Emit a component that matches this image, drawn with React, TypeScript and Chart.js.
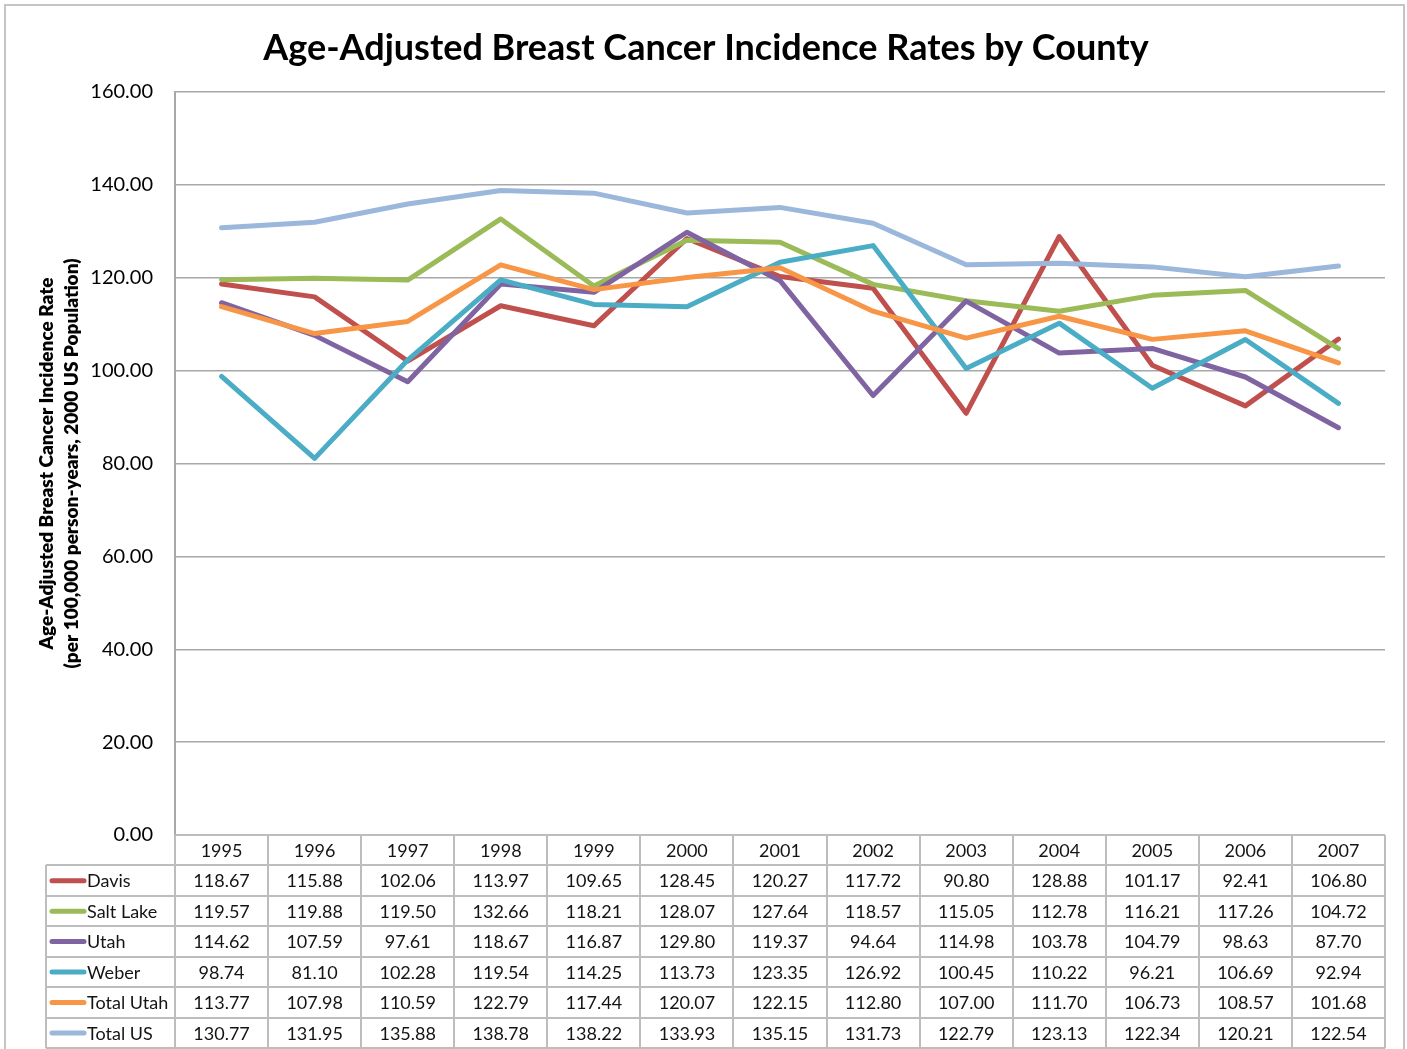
import React, { useEffect, useRef } from "react";
import { Chart, registerables } from "chart.js";

Chart.register(...registerables);

const chartTitle = "Age-Adjusted Breast Cancer Incidence Rates by County";
const yTitleLines = [
  "Age-Adjusted Breast Cancer Incidence Rate",
  "(per 100,000 person-years, 2000 US Population)",
];

const years = ["1995", "1996", "1997", "1998", "1999", "2000", "2001", "2002", "2003", "2004", "2005", "2006", "2007"];

const davis = [118.67, 115.88, 102.06, 113.97, 109.65, 128.45, 120.27, 117.72, 90.8, 128.88, 101.17, 92.41, 106.8];
const saltLake = [119.57, 119.88, 119.5, 132.66, 118.21, 128.07, 127.64, 118.57, 115.05, 112.78, 116.21, 117.26, 104.72];
const utah = [114.62, 107.59, 97.61, 118.67, 116.87, 129.8, 119.37, 94.64, 114.98, 103.78, 104.79, 98.63, 87.7];
const weber = [98.74, 81.1, 102.28, 119.54, 114.25, 113.73, 123.35, 126.92, 100.45, 110.22, 96.21, 106.69, 92.94];
const totalUtah = [113.77, 107.98, 110.59, 122.79, 117.44, 120.07, 122.15, 112.8, 107.0, 111.7, 106.73, 108.57, 101.68];
const totalUS = [130.77, 131.95, 135.88, 138.78, 138.22, 133.93, 135.15, 131.73, 122.79, 123.13, 122.34, 120.21, 122.54];

const seriesNames = ["Davis", "Salt Lake", "Utah", "Weber", "Total Utah", "Total US"];
const seriesValues = [davis, saltLake, utah, weber, totalUtah, totalUS];
const seriesColors = ["#C0504D", "#9BBB59", "#8064A2", "#4BACC6", "#F79646", "#9BB7DB"];

const yMin = 0;
const yMax = 160;
const yStep = 20;

const FONT = "Lato, 'Open Sans', sans-serif";
const TEXT_COLOR = "#000000";

const frameDims = { w: 1407, h: 1049 };

const borderPlugin = {
  id: "outerBorder",
  beforeDraw(chart: any) {
    const { ctx } = chart;
    ctx.save();
    ctx.fillStyle = "#ffffff";
    ctx.fillRect(0, 0, chart.width, chart.height);
    ctx.strokeStyle = "#c4c4c4";
    ctx.lineWidth = 2;
    ctx.strokeRect(5, 5, chart.width - 8, chart.height + 20);
    ctx.restore();
  },
};

const titlePlugin = {
  id: "customTitle",
  afterDraw(chart: any) {
    const { ctx } = chart;
    ctx.save();
    ctx.fillStyle = "#000000";
    ctx.font = `bold 36px ${FONT}`;
    ctx.textAlign = "center";
    ctx.textBaseline = "middle";
    ctx.fillText(chartTitle, 706, 48);
    ctx.restore();
  },
};

const yTitlePlugin = {
  id: "yTitle",
  afterDraw(chart: any) {
    const { ctx, chartArea } = chart;
    const cy = (chartArea.top + chartArea.bottom) / 2;
    ctx.save();
    ctx.fillStyle = "#000000";
    ctx.font = `800 19px ${FONT}`;
    ctx.textAlign = "center";
    ctx.textBaseline = "middle";
    const xs = [47, 72];
    yTitleLines.forEach((line, i) => {
      ctx.save();
      ctx.translate(xs[i], cy);
      ctx.rotate(-Math.PI / 2);
      ctx.fillText(line, 0, 0);
      ctx.restore();
    });
    ctx.restore();
  },
};

const tablePlugin = {
  id: "dataTable",
  afterDraw(chart: any) {
    const { ctx, chartArea, scales } = chart;
    const xs = scales.x;
    const n = years.length;
    const colW = xs.getPixelForValue(1) - xs.getPixelForValue(0);
    const left = xs.getPixelForValue(0) - colW / 2;
    const right = left + colW * n;
    const top = chartArea.bottom;
    const rowH = 30.45;
    const rows = seriesValues.length;
    const bottom = top + rowH * (rows + 1);
    const legendLeft = 46;

    ctx.save();
    ctx.strokeStyle = "#bdbdbd";
    ctx.lineWidth = 2;
    ctx.beginPath();
    for (let r = 0; r <= rows + 1; r++) {
      const y = Math.round(top + r * rowH);
      ctx.moveTo(r === 0 ? left : legendLeft, y);
      ctx.lineTo(right, y);
    }
    for (let c = 0; c <= n; c++) {
      const x = Math.round(left + c * colW);
      ctx.moveTo(x, top);
      ctx.lineTo(x, bottom);
    }
    ctx.moveTo(legendLeft, Math.round(top + rowH));
    ctx.lineTo(legendLeft, bottom);
    ctx.stroke();

    ctx.fillStyle = "#141414";
    ctx.font = `18px ${FONT}`;
    ctx.textAlign = "center";
    ctx.textBaseline = "middle";
    years.forEach((yr, i) => {
      ctx.fillText(yr, xs.getPixelForValue(i), top + rowH * 0.5 + 1);
    });
    seriesValues.forEach((vals, r) => {
      const cy = top + rowH * (r + 1.5) + 1;
      vals.forEach((v, i) => {
        ctx.fillText(v.toFixed(2), xs.getPixelForValue(i), cy);
      });
    });

    seriesNames.forEach((name, r) => {
      const cy = top + rowH * (r + 1.5);
      ctx.strokeStyle = seriesColors[r];
      ctx.lineWidth = 5;
      ctx.lineCap = "round";
      ctx.beginPath();
      ctx.moveTo(52, cy);
      ctx.lineTo(84, cy);
      ctx.stroke();
      ctx.fillStyle = "#141414";
      ctx.textAlign = "left";
      ctx.fillText(name, 87, cy + 1);
    });
    ctx.restore();
  },
};

export default function App() {
  const canvasRef = useRef<HTMLCanvasElement | null>(null);

  useEffect(() => {
    if (!canvasRef.current) return;
    const chart = new Chart(canvasRef.current, {
      type: "line",
      data: {
        labels: years,
        datasets: seriesNames.map((name, i) => ({
          label: name,
          data: seriesValues[i],
          borderColor: seriesColors[i],
          backgroundColor: seriesColors[i],
          borderWidth: 5,
          pointRadius: 0,
          pointHoverRadius: 0,
          tension: 0,
          borderJoinStyle: "round" as const,
          borderCapStyle: "round" as const,
          fill: false,
          order: seriesNames.length - 1 - i,
        })),
      },
      options: {
        responsive: false,
        animation: false,
        devicePixelRatio: 1,
        layout: { padding: { left: 0, right: 22, top: 92, bottom: 214 } },
        plugins: {
          legend: { display: false },
          tooltip: { enabled: false },
          title: { display: false },
        },
        scales: {
          x: {
            type: "category",
            offset: true,
            display: false,
          },
          y: {
            min: yMin,
            max: yMax,
            afterFit: (scale: any) => {
              scale.width = 175;
            },
            ticks: {
              stepSize: yStep,
              padding: 22,
              color: TEXT_COLOR,
              font: { family: FONT, size: 20 },
              callback: (v: any) => Number(v).toFixed(2),
            },
            grid: {
              color: "#a8a8a8",
              lineWidth: 1.5,
              drawTicks: false,
            },
            border: { display: true, color: "#a8a8a8", width: 2 },
          },
        },
      },
      plugins: [borderPlugin, titlePlugin, yTitlePlugin, tablePlugin],
    });
    return () => chart.destroy();
  }, []);

  return (
    <div style={{ position: "fixed", left: 0, top: 0, width: frameDims.w, height: frameDims.h, background: "#fff" }}>
      <canvas ref={canvasRef} width={frameDims.w} height={frameDims.h} />
    </div>
  );
}
